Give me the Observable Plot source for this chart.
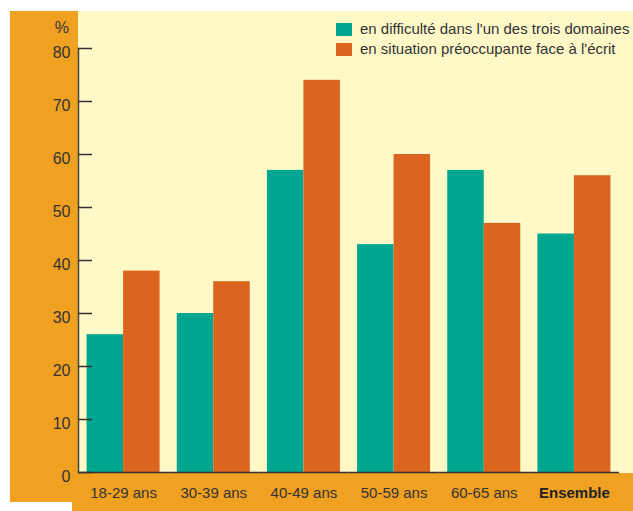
<!DOCTYPE html>
<html>
<head>
<meta charset="utf-8">
<script src="https://cdn.jsdelivr.net/npm/d3@7"></script>
<script src="https://cdn.jsdelivr.net/npm/@observablehq/plot@0.6"></script>
<style>
  html, body { margin: 0; padding: 0; background: #ffffff; }
  #wrap { position: relative; width: 633px; height: 511px; font-family: "Liberation Sans", Arial, sans-serif; color: #333; overflow: hidden; }
  .panel { position: absolute; }
  #chart { position: absolute; left: 0; top: 0; }
  #pct { position: absolute; right: 564px; top: 18px; font-size: 16px; line-height: 20px; color: #333; }
  #legend { position: absolute; left: 336px; top: 19px; font-size: 15px; line-height: 20px; }
  .li { display: flex; align-items: center; height: 20px; white-space: nowrap; }
  .sw { width: 16px; height: 13px; margin-right: 8px; flex: none; }
</style>
</head>
<body>
<div id="wrap">
  <div class="panel" style="left:10px;top:11px;width:68px;height:491px;background:#F0A121"></div>
  <div class="panel" style="left:72px;top:473px;width:561px;height:38px;background:#F0A121"></div>
  <div class="panel" style="left:78px;top:11px;width:555px;height:462px;background:#FFF9C8"></div>
  <div id="chart"></div>
  <div id="pct">%</div>
  <div id="legend"></div>
</div>
<script>
const groups = ["18-29 ans", "30-39 ans", "40-49 ans", "50-59 ans", "60-65 ans", "Ensemble"];
const series = ["en difficulté dans l'un des trois domaines", "en situation préoccupante face à l'écrit"];
const difficulte = [26, 30, 57, 43, 57, 45];
const preoccupante = [38, 36, 74, 60, 47, 56];
const yTicks = [0, 10, 20, 30, 40, 50, 60, 70, 80];
const boldGroup = "Ensemble";
const colors = ["#00A68F", "#DD641E"];

const rows = [];
groups.forEach((g, i) => {
  rows.push({group: g, series: series[0], value: difficulte[i]});
  rows.push({group: g, series: series[1], value: preoccupante[i]});
});

const chart = Plot.plot({
  width: 633,
  height: 511,
  marginLeft: 78,
  marginRight: 14,
  marginTop: 48,
  marginBottom: 39,
  style: {background: "transparent", fontFamily: "Liberation Sans, Arial, sans-serif", fontSize: "15px", color: "#333", overflow: "visible"},
  fx: {domain: groups, padding: 0, round: false, label: null, axis: "bottom", tickSize: 0, tickPadding: 15},
  x: {domain: series, paddingInner: 0, paddingOuter: 0.235, round: false, axis: null},
  y: {domain: [0, 80], axis: null},
  color: {domain: series, range: colors},
  marks: [
    Plot.barY(rows, {fx: "group", x: "series", y: "value", fill: "series"}),
    Plot.ruleY([0], {stroke: "#333", strokeWidth: 1.5}),
    Plot.frame({anchor: "left", facetAnchor: "left", stroke: "#444", strokeWidth: 1.5}),
    Plot.axisY(yTicks, {anchor: "left", tickSize: -14, stroke: "#333", strokeWidth: 1.5, label: null, tickFormat: () => ""}),
    Plot.axisY(yTicks, {anchor: "left", tickSize: 0, tickPadding: 8, dy: 4, fontSize: 16, fill: "#333", label: null, tickFormat: d => d})
  ]
});
document.getElementById("chart").appendChild(chart);

d3.select(chart).selectAll("text")
  .filter(function () { return this.textContent === boldGroup; })
  .attr("font-weight", "bold")
  .attr("fill", "#222");

const legend = document.getElementById("legend");
series.forEach((s, i) => {
  const li = document.createElement("div");
  li.className = "li";
  const sw = document.createElement("span");
  sw.className = "sw";
  sw.style.background = colors[i];
  const t = document.createElement("span");
  t.textContent = s;
  li.appendChild(sw);
  li.appendChild(t);
  legend.appendChild(li);
});
</script>
</body>
</html>
